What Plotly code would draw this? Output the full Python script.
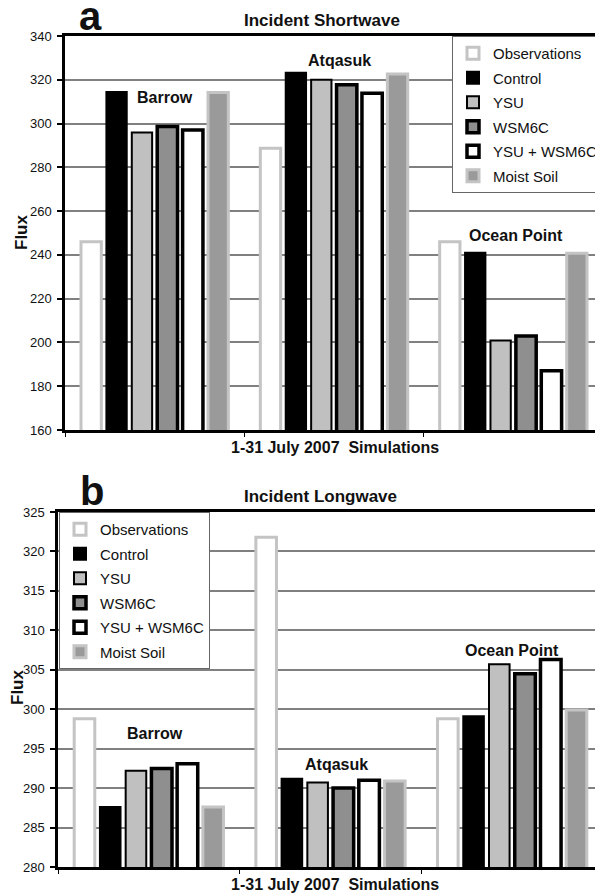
import plotly.graph_objects as go
from plotly.subplots import make_subplots

# page body has an 8px default margin: the figure is sized to the remaining viewport
OFF = 8
W, H = 603 - OFF, 893 - OFF

sites = ["Barrow", "Atqasuk", "Ocean Point"]
series = ["Observations", "Control", "YSU", "WSM6C", "YSU + WSM6C", "Moist Soil"]

sw_obs = [246, 288.7, 246]
sw_control = [314.4, 323.2, 241]
sw_ysu = [295.9, 320, 200.9]
sw_wsm6c = [298.7, 317.7, 203]
sw_ysu_wsm6c = [297, 313.9, 187.1]
sw_moist = [314.2, 322.6, 240.8]

lw_obs = [298.8, 321.8, 298.8]
lw_control = [287.6, 291.2, 299.1]
lw_ysu = [292.2, 290.7, 305.7]
lw_wsm6c = [292.5, 290.0, 304.5]
lw_ysu_wsm6c = [293.1, 291.0, 306.3]
lw_moist = [287.6, 290.9, 299.9]

sw = [sw_obs, sw_control, sw_ysu, sw_wsm6c, sw_ysu_wsm6c, sw_moist]
lw = [lw_obs, lw_control, lw_ysu, lw_wsm6c, lw_ysu_wsm6c, lw_moist]

styles = [
    dict(color="#ffffff", line=dict(color="#c4c4c4", width=3)),
    dict(color="#000000", line=dict(color="#000000", width=2)),
    dict(color="#c0c0c0", line=dict(color="#000000", width=2)),
    dict(color="#8f8f8f", line=dict(color="#000000", width=3.5)),
    dict(color="#ffffff", line=dict(color="#000000", width=3.5)),
    dict(color="#9a9a9a", line=dict(color="#c4c4c4", width=3)),
]

FONT = "Liberation Sans, Arial, sans-serif"

fig = make_subplots(rows=2, cols=1)
for i, name in enumerate(series):
    fig.add_trace(go.Bar(x=sites, y=sw[i], name=name, marker=styles[i],
                         legend="legend", legendgroup="a%d" % i), row=1, col=1)
for i, name in enumerate(series):
    fig.add_trace(go.Bar(x=sites, y=lw[i], name=name, marker=styles[i],
                         legend="legend2", legendgroup="b%d" % i), row=2, col=1)

def px(x):
    return (x - OFF) / W

def py(y):
    return 1 - (y - OFF) / H

axis_common = dict(showline=True, linecolor="black", linewidth=2.5, automargin=False)
fig.update_layout(
    width=W, height=H, autosize=False,
    margin=dict(l=0, r=0, t=0, b=0, pad=0),
    paper_bgcolor="white", plot_bgcolor="white",
    font=dict(family=FONT, color="#111111", size=13),
    title=dict(text="<b>a</b>", x=px(90), xanchor="center", xref="paper",
               yref="container", y=py(30), yanchor="bottom",
               font=dict(size=40, color="#111111", family=FONT)),
    barmode="group", bargap=0.15, bargroupgap=0.2,
    xaxis=dict(domain=[px(65), 1], tickson="boundaries", ticks="outside", ticklen=4,
               tickcolor="black", showticklabels=False, mirror=True, **axis_common),
    yaxis=dict(domain=[py(430), py(36)], range=[160, 340], dtick=20, ticks="outside",
               ticklen=5, tickcolor="black", tickwidth=1.5, showgrid=True,
               gridcolor="#808080", gridwidth=1.5, zeroline=False,
               tickfont=dict(size=13), ticklabelstandoff=3, **axis_common),
    xaxis2=dict(domain=[px(58), 1], tickson="boundaries", ticks="outside", ticklen=4,
                tickcolor="black", showticklabels=False, mirror=True, **axis_common),
    yaxis2=dict(domain=[py(867), py(512)], range=[280, 325], dtick=5, ticks="outside",
                ticklen=5, tickcolor="black", tickwidth=1.5, showgrid=True,
                gridcolor="#808080", gridwidth=1.5, zeroline=False,
                tickfont=dict(size=13), ticklabelstandoff=3, **axis_common),
    legend=dict(x=1, xanchor="right", y=py(36), yanchor="top", bgcolor="white",
                bordercolor="#666666", borderwidth=1, font=dict(size=15),
                traceorder="grouped", tracegroupgap=2, itemwidth=30),
    legend2=dict(x=px(59), xanchor="left", y=py(512), yanchor="top", bgcolor="white",
                 bordercolor="#666666", borderwidth=1, font=dict(size=15),
                 traceorder="grouped", tracegroupgap=2, itemwidth=30),
)

def ann(text, x, y, size, bold=True, angle=0, yanchor="middle"):
    fig.add_annotation(text=("<b>%s</b>" % text) if bold else text,
                       x=px(x), y=py(y), xref="paper", yref="paper",
                       xanchor="center", yanchor=yanchor, showarrow=False,
                       borderpad=0,
                       textangle=angle, font=dict(size=size, color="#111111", family=FONT))

# panel a
ann("Incident Shortwave", 322, 21, 17)
ann("Barrow", 165, 98, 16)
ann("Atqasuk", 339, 60, 16)
ann("Ocean Point", 516, 235, 16)
ann("1-31 July 2007&nbsp;&nbsp;Simulations", 335, 447, 16)
ann("Flux", 21, 233, 17, angle=-90)
# panel b
ann("b", 92, 491, 40)
ann("Incident Longwave", 320, 497, 17)
ann("Barrow", 155, 733, 16)
ann("Atqasuk", 336, 764, 16)
ann("Ocean Point", 512, 650, 16)
ann("1-31 July 2007&nbsp;&nbsp;Simulations", 335, 884, 16)
ann("Flux", 17, 688, 17, angle=-90)

fig.write_html("out.html")
